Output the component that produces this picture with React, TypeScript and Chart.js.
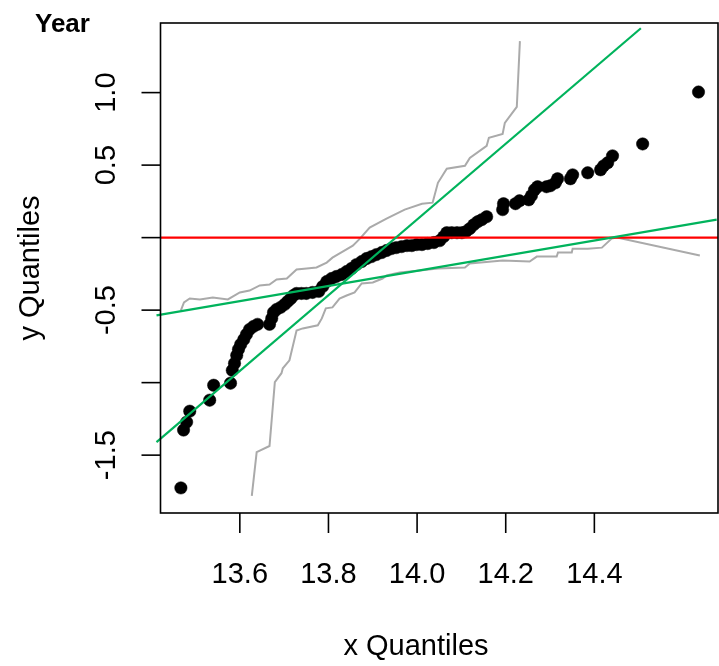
import { useEffect, useRef } from 'react';
import { Chart, registerables } from 'chart.js';

Chart.register(...registerables);

// Sorted sample quantiles (x vs y)
const qqX = [13.467, 13.473, 13.480, 13.487, 13.532, 13.541, 13.579, 13.583, 13.588, 13.593, 13.597, 13.602, 13.609, 13.615, 13.622, 13.631, 13.640, 13.667, 13.672, 13.676, 13.683, 13.692, 13.701, 13.708, 13.715, 13.721, 13.728, 13.739, 13.750, 13.764, 13.778, 13.787, 13.796, 13.807, 13.818, 13.830, 13.841, 13.852, 13.863, 13.875, 13.886, 13.897, 13.908, 13.920, 13.931, 13.942, 13.953, 13.965, 13.977, 13.988, 13.999, 14.011, 14.024, 14.038, 14.051, 14.060, 14.067, 14.078, 14.090, 14.101, 14.110, 14.119, 14.128, 14.137, 14.146, 14.157, 14.193, 14.195, 14.222, 14.231, 14.252, 14.258, 14.265, 14.272, 14.292, 14.301, 14.312, 14.317, 14.346, 14.351, 14.385, 14.414, 14.421, 14.430, 14.441, 14.509, 14.635];
const qqY = [-1.726, -1.327, -1.272, -1.197, -1.121, -1.018, -1.004, -0.915, -0.867, -0.812, -0.770, -0.736, -0.702, -0.667, -0.633, -0.612, -0.598, -0.598, -0.557, -0.516, -0.495, -0.481, -0.461, -0.440, -0.420, -0.399, -0.385, -0.385, -0.385, -0.378, -0.371, -0.337, -0.303, -0.282, -0.268, -0.254, -0.234, -0.213, -0.186, -0.165, -0.144, -0.131, -0.117, -0.103, -0.089, -0.076, -0.069, -0.062, -0.055, -0.055, -0.048, -0.048, -0.041, -0.034, -0.021, 0.007, 0.034, 0.034, 0.034, 0.034, 0.041, 0.062, 0.089, 0.110, 0.124, 0.144, 0.193, 0.234, 0.234, 0.254, 0.261, 0.289, 0.330, 0.351, 0.351, 0.358, 0.378, 0.406, 0.406, 0.433, 0.447, 0.468, 0.495, 0.516, 0.564, 0.646, 1.004];

// Confidence envelope, upper branch
const envUpX = [13.467, 13.474, 13.487, 13.510, 13.539, 13.573, 13.600, 13.622, 13.645, 13.667, 13.683, 13.706, 13.728, 13.751, 13.773, 13.796, 13.809, 13.832, 13.855, 13.871, 13.893, 13.931, 13.972, 14.011, 14.035, 14.047, 14.067, 14.108, 14.119, 14.157, 14.162, 14.193, 14.198, 14.225, 14.232];
const envUpY = [-0.502, -0.447, -0.420, -0.426, -0.413, -0.426, -0.378, -0.365, -0.330, -0.323, -0.289, -0.282, -0.220, -0.213, -0.206, -0.172, -0.138, -0.096, -0.055, -0.007, 0.069, 0.131, 0.193, 0.234, 0.241, 0.378, 0.475, 0.495, 0.550, 0.633, 0.688, 0.715, 0.791, 0.901, 1.355];

// Confidence envelope, lower branch
const envLoX = [13.627, 13.638, 13.667, 13.679, 13.694, 13.697, 13.712, 13.728, 13.742, 13.776, 13.785, 13.794, 13.809, 13.825, 13.841, 13.859, 13.875, 13.900, 13.922, 13.931, 13.961, 14.006, 14.047, 14.108, 14.119, 14.193, 14.254, 14.270, 14.315, 14.318, 14.349, 14.351, 14.385, 14.417, 14.439, 14.451, 14.638];
const envLoY = [-1.781, -1.479, -1.437, -0.997, -0.935, -0.901, -0.846, -0.640, -0.626, -0.605, -0.557, -0.488, -0.481, -0.420, -0.399, -0.378, -0.316, -0.309, -0.282, -0.261, -0.241, -0.227, -0.213, -0.206, -0.179, -0.158, -0.165, -0.131, -0.131, -0.103, -0.103, -0.076, -0.076, -0.069, -0.007, 0.000, -0.124];

// Reference lines
const steepX = [13.412, 14.505];
const steepY = [-1.410, 1.444];
const shallowX = [13.412, 14.676];
const shallowY = [-0.536, 0.124];
const zeroX = [13.421, 14.679];
const zeroY = [0, 0];

// Axes
const xRange = [13.421, 14.679];
const yRange = [-1.899, 1.48];
const xTicks = [13.6, 13.8, 14.0, 14.2, 14.4];
const xTickLabels = ['13.6', '13.8', '14.0', '14.2', '14.4'];
const yTicks = [-1.5, -1.0, -0.5, 0, 0.5, 1.0];
const yTickLabels = ['-1.5', '', '-0.5', '', '0.5', '1.0'];

const FONT = '"Liberation Sans", Arial, Helvetica, sans-serif';

const pts = (xs: number[], ys: number[]) => xs.map((x, i) => ({ x, y: ys[i] }));

const framePlugin = {
  id: 'qqFrame',
  afterDraw(chart: any) {
    const { ctx, chartArea: a, scales } = chart;
    const xs = scales.x;
    const ys = scales.y;
    ctx.save();
    ctx.strokeStyle = '#000';
    ctx.fillStyle = '#000';
    ctx.lineWidth = 1.6;
    ctx.strokeRect(a.left, a.top, a.right - a.left, a.bottom - a.top);

    ctx.font = `29px ${FONT}`;
    ctx.textAlign = 'center';
    ctx.textBaseline = 'alphabetic';
    xTicks.forEach((v, i) => {
      const px = xs.getPixelForValue(v);
      ctx.beginPath();
      ctx.moveTo(px, a.bottom);
      ctx.lineTo(px, a.bottom + 20);
      ctx.stroke();
      ctx.fillText(xTickLabels[i], px, 583);
    });
    yTicks.forEach((v, i) => {
      const py = ys.getPixelForValue(v);
      ctx.beginPath();
      ctx.moveTo(a.left - 19, py);
      ctx.lineTo(a.left, py);
      ctx.stroke();
      if (yTickLabels[i]) {
        ctx.save();
        ctx.translate(115, py);
        ctx.rotate(-Math.PI / 2);
        ctx.fillText(yTickLabels[i], 0, 0);
        ctx.restore();
      }
    });

    ctx.fillText('x Quantiles', 416, 655);
    ctx.save();
    ctx.translate(39, (a.top + a.bottom) / 2);
    ctx.rotate(-Math.PI / 2);
    ctx.fillText('y Quantiles', 0, 0);
    ctx.restore();

    ctx.font = `bold 26px ${FONT}`;
    ctx.textAlign = 'left';
    ctx.fillText('Year', 35, 32);
    ctx.restore();
  },
};

export default function App() {
  const ref = useRef<HTMLCanvasElement>(null);

  useEffect(() => {
    if (!ref.current) return;
    const lineDs = (label: string, xs: number[], ys: number[], color: string, width: number, clip = true) => ({
      label,
      data: pts(xs, ys),
      showLine: true,
      borderColor: color,
      borderWidth: width,
      pointRadius: 0,
      fill: false,
      tension: 0,
      clip: clip ? 0 : false,
    });
    const chart = new Chart(ref.current, {
      type: 'scatter',
      data: {
        datasets: [
          lineDs('steep', steepX, steepY, '#00b35c', 2.2, false),
          lineDs('shallow', shallowX, shallowY, '#00b35c', 2.2, false),
          lineDs('zero', zeroX, zeroY, '#ff0000', 2.3),
          lineDs('upper', envUpX, envUpY, '#aaaaaa', 2),
          lineDs('lower', envLoX, envLoY, '#aaaaaa', 2),
          {
            label: 'Year',
            data: pts(qqX, qqY),
            backgroundColor: '#000',
            borderColor: '#000',
            borderWidth: 0.5,
            pointRadius: 6.2,
            showLine: false,
            clip: false,
          },
        ] as any,
      },
      options: {
        responsive: false,
        animation: false,
        layout: { autoPadding: false, padding: { left: 160.5, top: 23, right: 1, bottom: 153 } },
        scales: {
          x: { type: 'linear', min: xRange[0], max: xRange[1], display: false },
          y: { type: 'linear', min: yRange[0], max: yRange[1], display: false },
        },
        plugins: { legend: { display: false }, tooltip: { enabled: false } },
      },
      plugins: [framePlugin],
    });
    return () => chart.destroy();
  }, []);

  return (
    <div style={{ position: 'fixed', left: 0, top: 0, width: 719, height: 666, background: '#fff' }}>
      <canvas ref={ref} width={719} height={666} style={{ width: 719, height: 666 }} />
    </div>
  );
}
